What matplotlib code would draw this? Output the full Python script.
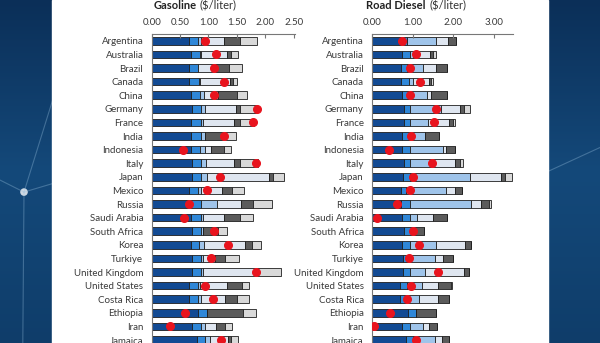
import numpy as np
import matplotlib.pyplot as plt
from matplotlib.patches import Rectangle

countries = ['Argentina', 'Australia', 'Brazil', 'Canada', 'China', 'Germany',
             'France', 'India', 'Indonesia', 'Italy', 'Japan', 'Mexico',
             'Russia', 'Saudi Arabia', 'South Africa', 'Korea', 'Turkiye',
             'United Kingdom', 'United States', 'Costa Rica', 'Ethiopia',
             'Iran', 'Jamaica']

# cumulative price components ($/liter), one list per bar segment end
gas_supply = [0.665, 0.69, 0.665, 0.665, 0.69, 0.71, 0.69, 0.69, 0.69, 0.71, 0.71, 0.665,
              0.665, 0.69, 0.71, 0.69, 0.71, 0.71, 0.665, 0.665, 0.81, 0.71, 0.80]
gas_climate = [0.81, 0.85, 0.81, 0.84, 0.85, 0.86, 0.86, 0.86, 0.85, 0.86, 0.87, 0.81,
               0.87, 0.86, 0.86, 0.84, 0.86, 0.86, 0.81, 0.81, 0.98, 0.86, 0.94]
gas_pollution = [0.87, 0.86, 0.82, 0.85, 0.92, 0.94, 0.90, 0.94, 0.94, 0.96, 0.98, 0.87,
                 1.15, 0.91, 0.90, 0.92, 0.91, 0.91, 0.85, 0.87, 0.98, 0.94, 1.02]
gas_congestion = [1.27, 1.33, 1.14, 1.37, 1.16, 1.48, 1.45, 0.94, 1.05, 1.45, 2.06, 1.24,
                  1.58, 1.27, 0.90, 1.64, 1.11, 1.87, 1.32, 1.29, 0.98, 1.14, 1.34]
gas_accidents = [1.55, 1.39, 1.36, 1.43, 1.50, 1.55, 1.55, 1.28, 1.27, 1.55, 2.14, 1.41,
                 1.78, 1.55, 1.16, 1.76, 1.29, 1.87, 1.59, 1.50, 1.61, 1.29, 1.40]
gas_tax = [1.86, 1.52, 1.59, 1.50, 1.68, 1.85, 1.80, 1.49, 1.40, 1.87, 2.33, 1.62,
           2.12, 1.78, 1.33, 1.93, 1.53, 2.27, 1.71, 1.71, 1.84, 1.41, 1.52]
gas_retail = [0.94, 1.14, 1.09, 1.27, 1.10, 1.85, 1.79, 1.27, 0.55, 1.84, 1.21, 0.98,
              0.65, 0.56, 1.09, 1.34, 1.04, 1.84, 0.94, 1.08, 0.58, 0.33, 1.22]

dsl_supply = [0.76, 0.74, 0.72, 0.72, 0.74, 0.78, 0.78, 0.74, 0.74, 0.78, 0.76, 0.72,
              0.72, 0.74, 0.78, 0.74, 0.76, 0.76, 0.70, 0.70, 0.89, 0.74, 0.84]
dsl_climate = [0.87, 0.93, 0.87, 0.90, 0.89, 0.94, 0.94, 0.93, 0.93, 0.94, 0.93, 0.84,
               0.94, 0.93, 0.99, 0.93, 0.89, 0.94, 0.87, 0.87, 1.09, 0.93, 1.01]
dsl_pollution = [1.57, 1.01, 1.25, 1.01, 1.36, 1.70, 1.38, 1.31, 1.75, 1.44, 2.42, 1.83,
                 2.44, 1.11, 1.03, 1.58, 1.54, 1.31, 1.23, 1.16, 1.09, 1.25, 1.54]
dsl_congestion = [1.87, 1.42, 1.57, 1.40, 1.46, 2.17, 1.89, 1.31, 1.81, 2.05, 3.18, 2.05,
                  2.69, 1.50, 1.03, 2.28, 1.75, 2.25, 1.62, 1.61, 1.09, 1.40, 1.72]
dsl_accidents = [2.07, 1.50, 1.84, 1.46, 1.84, 2.26, 1.99, 1.64, 2.05, 2.15, 3.28, 2.21,
                 2.87, 1.84, 1.28, 2.44, 1.99, 2.39, 1.93, 1.89, 1.57, 1.60, 1.89]
dsl_tax = [2.07, 1.57, 1.84, 1.50, 1.84, 2.40, 2.05, 1.64, 2.05, 2.24, 3.43, 2.21,
           2.93, 1.84, 1.28, 2.44, 1.99, 2.39, 1.97, 1.89, 1.57, 1.60, 1.89]
dsl_retail = [0.74, 1.07, 0.93, 1.17, 0.94, 1.58, 1.52, 0.95, 0.41, 1.48, 1.01, 0.93,
              0.61, 0.13, 1.01, 1.16, 0.91, 1.62, 0.97, 0.86, 0.43, 0.05, 1.09]

gas_ticks = [0.0, 0.5, 1.0, 1.5, 2.0, 2.5]
dsl_ticks = [0.0, 1.0, 2.0, 3.0]

seg_colors = ['#124a93', '#2f87d8', '#9fc4ea', '#dfe6f0', '#5b5b5b', '#d9d9d9']
text_color = '#3a3a3a'
plt.rcParams['font.family'] = ['Lato', 'DejaVu Sans']

fig = plt.figure(figsize=(6.0, 3.43), dpi=100)

# dark backdrop with a white page in the middle
bg = fig.add_axes([0, 0, 1, 1], zorder=-5)
grad = np.linspace(0, 1, 256).reshape(-1, 1)
bg.imshow(grad, aspect='auto', extent=[0, 1, 0, 1], origin='upper',
          cmap=plt.matplotlib.colors.LinearSegmentedColormap.from_list(
              'bgblue', ['#0b2f58', '#14497a', '#0f3d6a']))
for (x0, y0, x1, y1) in [(0.04, 0.44, 0.088, 0.71), (0.04, 0.44, 0.0, 0.475),
                         (0.04, 0.44, 0.088, 0.465), (0.04, 0.44, 0.038, 0.0),
                         (0.913, 0.50, 1.0, 0.57)]:
    bg.plot([x0, x1], [y0, y1], color='#9cc3e0', lw=0.8, alpha=0.35)
bg.scatter([0.04], [0.44], s=30, color='white', alpha=0.8, edgecolors='none')
bg.add_patch(Rectangle((52 / 600, 0), 496 / 600, 1, color='white', zorder=3))
bg.set_xlim(0, 1)
bg.set_ylim(0, 1)
bg.axis('off')


def draw_panel(rect, ends, retail, ticks, xmax):
    ax = fig.add_axes(rect)
    y = np.arange(len(countries))
    start = np.zeros(len(countries))
    for end, col in zip(ends, seg_colors):
        end = np.array(end)
        ax.barh(y, end - start, left=start, height=0.55, color=col,
                edgecolor='#1e1e1e', linewidth=0.6)
        start = end
    ax.plot(retail, y, 'o', color='#e8141e', markersize=5.5, zorder=5)
    ax.set_xlim(0, xmax)
    ax.set_ylim(len(countries) - 0.5, -0.5)
    ax.set_yticks(y)
    ax.set_yticklabels(countries, fontsize=7, color=text_color)
    ax.set_xticks(ticks)
    ax.set_xticklabels(['%.2f' % t for t in ticks], fontsize=7, color=text_color)
    ax.xaxis.tick_top()
    ax.tick_params(axis='x', direction='in', length=3, pad=5, color='#777777')
    ax.tick_params(axis='y', length=0, pad=6)
    for side in ['right', 'bottom']:
        ax.spines[side].set_visible(False)
    ax.spines['top'].set_color('#777777')
    ax.spines['left'].set_color('#777777')
    ax.patch.set_visible(False)
    return ax


top = 1 - 34 / 343
height = 23 * 13.6 / 343
draw_panel([151.7 / 600, top - height, 2.52 * 56.8 / 600, height],
           [gas_supply, gas_climate, gas_pollution, gas_congestion, gas_accidents, gas_tax],
           gas_retail, gas_ticks, 2.52)
draw_panel([372 / 600, top - height, 3.46 * 40.7 / 600, height],
           [dsl_supply, dsl_climate, dsl_pollution, dsl_congestion, dsl_accidents, dsl_tax],
           dsl_retail, dsl_ticks, 3.46)

ty = 1 - 5.5 / 343
fig.text(197 / 600, ty, 'Gasoline', ha='right', va='center', fontsize=8,
         fontweight='bold', color='#222222')
fig.text(200 / 600, ty, '($/liter)', ha='left', va='center', fontsize=8, color='#333333')
fig.text(425 / 600, ty, 'Road Diesel', ha='right', va='center', fontsize=8,
         fontweight='bold', color='#222222')
fig.text(429 / 600, ty, '($/liter)', ha='left', va='center', fontsize=8, color='#333333')

fig.savefig('out.png', dpi=100)
